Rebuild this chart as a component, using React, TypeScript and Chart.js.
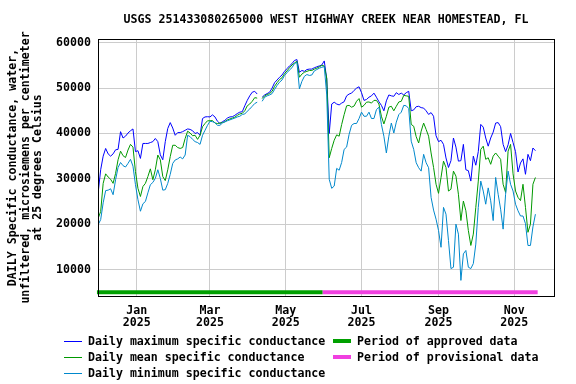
import React, { useEffect, useRef } from 'react';
import { Chart, registerables } from 'chart.js';

Chart.register(...registerables);

const TITLE = 'USGS 251433080265000 WEST HIGHWAY CREEK NEAR HOMESTEAD, FL';
const Y_TITLE = [
  'DAILY Specific conductance, water,',
  'unfiltered, microsiemens per centimeter',
  'at 25 degrees Celsius',
];

// Days counted from 2025-01-01; one reading every two days starting 2024-12-01
const FIRST_DAY = -31;
const DAY_STEP = 2;

const maxCond = [
  27000, 32000, 35000, 36700, 35500, 35000, 35500, 36400, 36500, 40400, 39000, 39400, 40100, 40600, 41000, 36000,
  36200, 34500, 37800, 37800, 37800, 38000, 38200, 38900, 38200, 35300, 34200, 38200, 41100, 42400, 41200, 39600,
  40200, 40200, 40400, 40700, 41000, 40900, 40600, 40000, 40200, 39600, 43300, 43650, 43700, 43650, 44100, 43650,
  42700, 42200, 42600, 42900, 43400, 43650, 43700, 44000, 44400, 44700, 44800, 46100, 47300, 48300, 49100, 49300,
  48700, null, 48000, 48500, 48800, 49100, 50000, 51200, 51800, 52400, 52900, 53700, 54300, 54900, 55400, 56100,
  56300, 53500, 53900, 53700, 54100, 54200, 54200, 54500, 54700, 54900, 55100,
  56000, 52000, 40000, 46500, 46900, 46500, 46300, 46700, 47000, 48300, 48700, 48900, 49500, 50000, 50300, 49000,
  47300, 47500, 48000, 48300, 48900, 48000, 47000, 46200, 45000, 47200, 48500, 48300, 48200, 49000, 48600, 48900,
  48500, 49000, 49300, 45000, 45200, 45900, 46000, 45700, 45600, 45000, 44200, 44600, 43800, 39500, 38200, 38500,
  37600, 34600, 32500, 34000, 39000, 37000, 33900, 34000, 37600, 32000, 31800, 29500, 35000, 33000, 36000, 42000,
  41400, 39000, 37200, 39000, 40300, 42300, 42400, 41500, 37600, 36000, 37500, 40000, 38000, 36000, 31500, 33500,
  34400, 31000, 35400, 34000, 36800, 36200,
];

const meanCond = [
  21300, 22800, 29000, 31100, 30400, 29900, 29000, 31200, 34200, 36100, 35100, 34700, 36350, 37600, 37000, 31600,
  27900, 26100, 28300, 29000, 30500, 32200, 29800, 32000, 35250, 34200, 30500, 29600, 32000, 34900, 37400, 37400,
  36900, 36700, 36900, 38900, 40500, 40100, 39500, 39600, 38700, 39600, 41500, 42200, 42800, 42800, 42850, 42300,
  42200, 42300, 42400, 42600, 43000, 43200, 43400, 43600, 44000, 44300, 44450, 45000, 46100, 46500, 47100, 47900,
  47800, null, 47700, 48300, 48600, 48800, 49300, 50400, 51200, 51900, 52300, 53200, 53800, 54500, 55100, 55550,
  55900, 52400, 53100, 53500, 53700, 53900, 53900, 54200, 54400, 54700, 55000,
  54900, 52200, 34650, 36700, 38500, 39700, 39400, 41960, 44150, 46100, 46200, 45800, 46050, 47100, 47700, 45800,
  46200, 46900, 46950, 46700, 47300, 47300, 46500, 43800, 42100, 43800, 45800, 46000, 45000, 46000, 46950, 47100,
  48400, 48300, 48200, 42000, 41600, 39300, 37900, 40500, 42300, 40900, 39400, 35700, 32500, 28800, 26800, 30300,
  33900, 32500, 27300, 27700, 31700, 30600, 26600, 20800, 25100, 22950, 18600, 15300, 17800, 23700, 29500, 36500,
  37200, 34300, 34650, 33200, 35000, 35700, 35000, 34300, 28800, 27000, 36100, 37600, 31100, 27300, 25900, 25200,
  28800, 23700, 18200, 20000, 28800, 30300,
];

const minCond = [
  19900, 21000, 24700, 27400, 27500, 27800, 26500, 29800, 32500, 33600, 32900, 32600, 33400, 34300, 32800, 28700,
  25400, 22850, 24500, 25000, 26900, 28700, 29200, 30100, 32000, 30100, 27500, 27600, 29000, 31000, 33400, 34160,
  34400, 34800, 34400, 35250, 39600, 39300, 38700, 38200, 38000, 37600, 39600, 40700, 41800, 42700, 42600, 42400,
  41800, 41800, 42300, 42550, 42800, 43000, 43200, 43400, 43650, 43800, 44200, 44300, 44900, 45400, 46000, 46600,
  46900, null, 47100, 48000, 48300, 48500, 48800, 49700, 50600, 51300, 51800, 52800, 53400, 54000, 54500, 55400,
  55700, 49850, 51500, 52600, 53000, 52800, 52900, 53800, 54100, 54400, 54600,
  54750, 48500, 29900, 27900, 28400, 32300, 31900, 33600, 36500, 37000, 39800, 41800, 42200, 42200, 43300, 44700,
  43800, 43800, 44700, 43300, 43300, 45250, 45800, 42000, 39400, 35700, 39400, 42300, 40100, 42500, 44150, 44700,
  46200, 46100, 45500, 38300, 36500, 33550, 32450, 31700, 35400, 33550, 32450, 25900, 23100, 21100, 18600, 14900,
  23700, 22200, 16400, 10200, 10500, 20000, 17800, 7600, 13450, 14200, 10500, 10200, 11300, 15600, 23700, 29500,
  27300, 24400, 28000, 25150, 20800, 30300, 26600, 23300, 18900, 26600, 31700, 28800, 27300, 24400, 22950, 21800,
  21800, 20100, 15300, 15300, 19400, 22200,
];

const yTicks = [10000, 20000, 30000, 40000, 50000, 60000];
const xTickDays = [0, 59, 120, 181, 243, 304];
const xTickMonths = ['Jan', 'Mar', 'May', 'Jul', 'Sep', 'Nov'];
const xTickYears = ['2025', '2025', '2025', '2025', '2025', '2025'];

const approvedPeriod = [-32, 149.6];
const provisionalPeriod = [149.6, 322.8];
const PERIOD_LEVEL = 5000;

const FONT = "'DejaVu Sans Mono', monospace";
const COLORS = {
  max: '#0000ff',
  mean: '#009900',
  min: '#0088cc',
  approved: '#00a000',
  provisional: '#f040e0',
};

const decor = {
  id: 'decor',
  afterDraw(chart: any) {
    const ctx = chart.ctx as CanvasRenderingContext2D;
    const a = chart.chartArea;
    ctx.save();
    // frame
    ctx.strokeStyle = '#000';
    ctx.lineWidth = 1;
    ctx.strokeRect(Math.round(a.left) + 0.5, Math.round(a.top) + 0.5, Math.round(a.right - a.left), Math.round(a.bottom - a.top));
    ctx.fillStyle = '#000';
    ctx.font = `bold 11.6px ${FONT}`;
    ctx.textBaseline = 'middle';
    // title
    ctx.textAlign = 'center';
    ctx.fillText(TITLE, (a.left + a.right) / 2, 20);
    // y axis title
    const yc = (a.top + a.bottom) / 2;
    const xs = [13, 25.5, 38];
    Y_TITLE.forEach((t, i) => {
      ctx.save();
      ctx.translate(xs[i], yc);
      ctx.rotate(-Math.PI / 2);
      ctx.fillText(t, 0, 0);
      ctx.restore();
    });
    // legend
    ctx.textAlign = 'left';
    const rows = [341, 357, 373];
    const col1 = [
      { c: COLORS.max, t: 'Daily maximum specific conductance' },
      { c: COLORS.mean, t: 'Daily mean specific conductance' },
      { c: COLORS.min, t: 'Daily minimum specific conductance' },
    ];
    col1.forEach((it, i) => {
      ctx.fillStyle = it.c;
      ctx.fillRect(64, rows[i], 18, 1);
      ctx.fillStyle = '#000';
      ctx.fillText(it.t, 88, rows[i] + 1);
    });
    const col2 = [
      { c: COLORS.approved, t: 'Period of approved data' },
      { c: COLORS.provisional, t: 'Period of provisional data' },
    ];
    col2.forEach((it, i) => {
      ctx.fillStyle = it.c;
      ctx.fillRect(333, rows[i] - 2, 18, 4);
      ctx.fillStyle = '#000';
      ctx.fillText(it.t, 357, rows[i] + 1);
    });
    ctx.restore();
  },
};

export default function App() {
  const ref = useRef<HTMLCanvasElement>(null);
  useEffect(() => {
    const days = maxCond.map((_, i) => FIRST_DAY + i * DAY_STEP);
    const pts = (arr: (number | null)[]) => arr.map((v, i) => ({ x: days[i], y: v }));
    const line = (label: string, arr: (number | null)[], color: string, order: number) => ({
      label,
      data: pts(arr),
      borderColor: color,
      backgroundColor: color,
      borderWidth: 1,
      pointRadius: 0,
      tension: 0,
      spanGaps: false,
      order,
    });
    const chart = new Chart(ref.current as HTMLCanvasElement, {
      type: 'line',
      data: {
        datasets: [
          line('Daily maximum specific conductance', maxCond, COLORS.max, 3),
          line('Daily mean specific conductance', meanCond, COLORS.mean, 2),
          line('Daily minimum specific conductance', minCond, COLORS.min, 1),
          {
            label: 'Period of approved data',
            data: approvedPeriod.map((d) => ({ x: d, y: PERIOD_LEVEL })),
            borderColor: COLORS.approved,
            borderWidth: 4,
            pointRadius: 0,
            borderCapStyle: 'butt',
            clip: false,
            order: 0,
          },
          {
            label: 'Period of provisional data',
            data: provisionalPeriod.map((d) => ({ x: d, y: PERIOD_LEVEL })),
            borderColor: COLORS.provisional,
            borderWidth: 4,
            pointRadius: 0,
            borderCapStyle: 'butt',
            clip: false,
            order: 0,
          },
        ] as any,
      },
      options: {
        animation: false,
        responsive: false,
        devicePixelRatio: 1,
        layout: { padding: { left: 0, top: 39, right: 22, bottom: 0 } },
        plugins: { legend: { display: false }, title: { display: false }, tooltip: { enabled: false } },
        events: [],
        scales: {
          x: {
            type: 'linear',
            min: -31.16,
            max: 335.96,
            afterFit: (s: any) => { s.height = 88; s.paddingLeft = 0; s.paddingRight = 0; },
            afterBuildTicks: (s: any) => { s.ticks = xTickDays.map((v) => ({ value: v })); },
            grid: { color: '#cccccc', lineWidth: 1, drawTicks: false },
            border: { display: false },
            ticks: {
              autoSkip: false,
              maxRotation: 0,
              padding: 9,
              color: '#000',
              font: { family: FONT, size: 11.6, weight: 'bold', lineHeight: '12px' } as any,
              callback: (v: any) => {
                const i = xTickDays.indexOf(Number(v));
                return i >= 0 ? [xTickMonths[i], xTickYears[i]] : '';
              },
            },
          },
          y: {
            type: 'linear',
            min: 4155,
            max: 60838,
            afterFit: (s: any) => { s.width = 98; s.paddingTop = 0; s.paddingBottom = 0; },
            afterBuildTicks: (s: any) => { s.ticks = yTicks.map((v) => ({ value: v })); },
            grid: { color: '#cccccc', lineWidth: 1, drawTicks: false },
            border: { display: false },
            ticks: {
              padding: 7,
              color: '#000',
              font: { family: FONT, size: 11.6, weight: 'bold' } as any,
              callback: (v: any) => String(v),
            },
          },
        },
      } as any,
      plugins: [decor],
    });
    return () => chart.destroy();
  }, []);
  return (
    <div style={{ position: 'absolute', left: 0, top: 0, width: 576, height: 384, background: '#fff' }}>
      <canvas ref={ref} width={576} height={384} style={{ width: 576, height: 384, display: 'block' }} />
    </div>
  );
}
